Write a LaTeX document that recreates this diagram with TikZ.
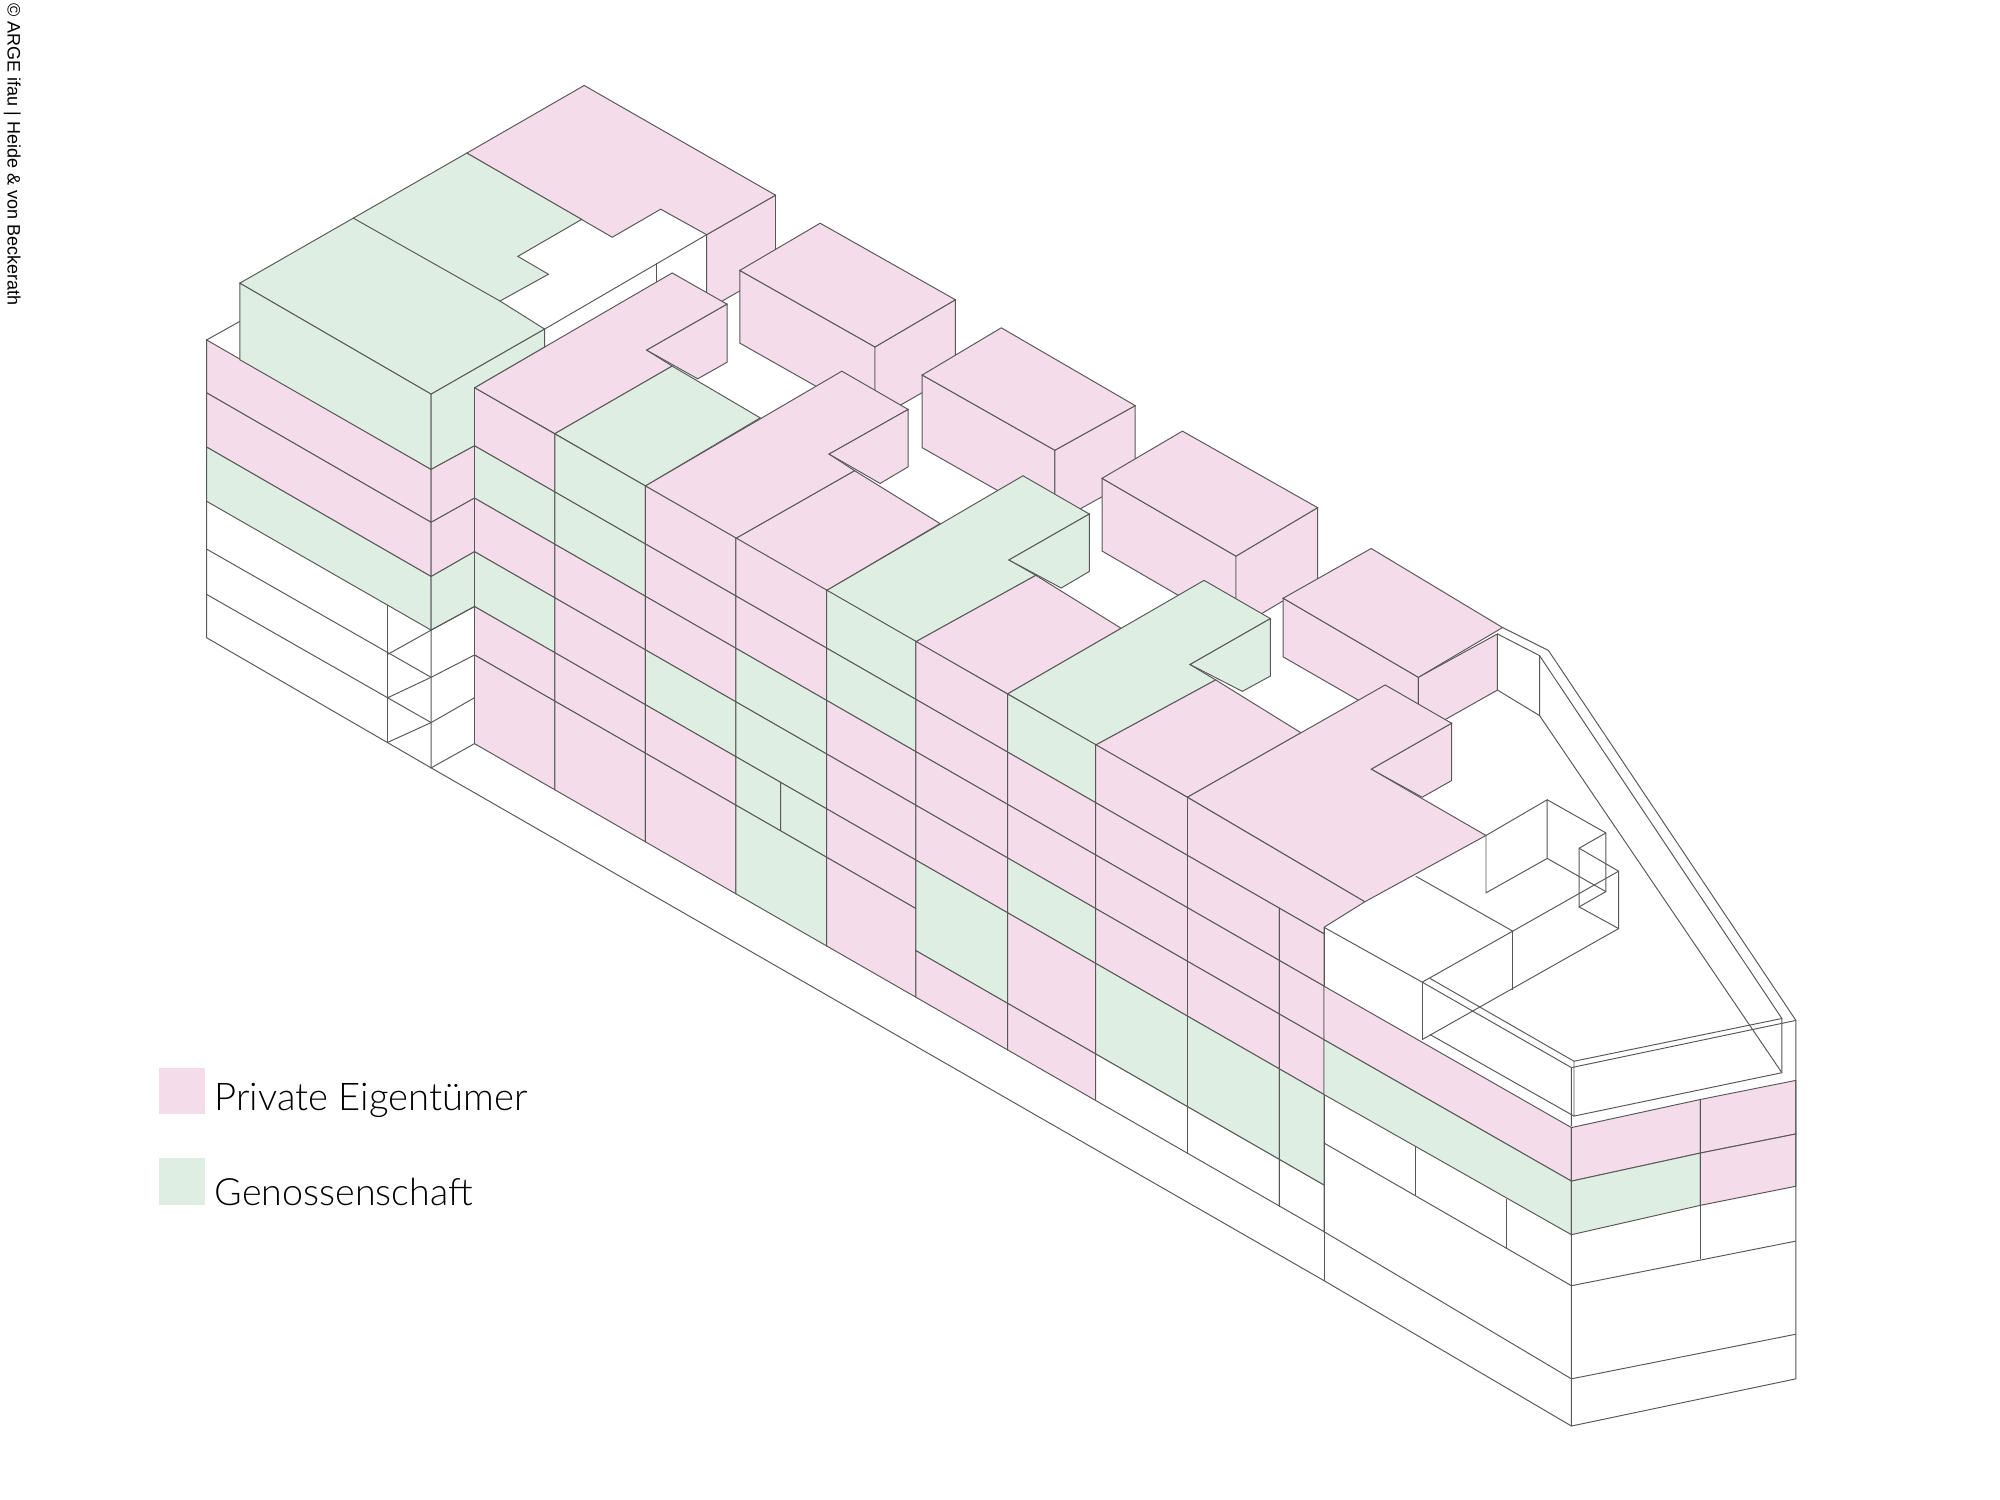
\documentclass[tikz,border=0pt]{standalone}
\usepackage{fontspec}
\setmainfont{Liberation Sans}
\newfontfamily\legendfont{Lato}[UprightFont=* Light]
\definecolor{linecol}{HTML}{585858}
\definecolor{pk}{HTML}{F4DCEB}
\definecolor{gn}{HTML}{DFEEE2}
% point on a long-axis facade line: x, and the line's height at x=372
\newcommand{\fc}[2]{({#1},{#2+0.5745*(#1-372)})}
\newcommand{\cellf}[5]{\filldraw[fill=#5] \fc{#1}{#3} -- \fc{#2}{#3} -- \fc{#2}{#4} -- \fc{#1}{#4} -- cycle;}
\def\lO{304}\def\lA{349.5}\def\lB{390.5}\def\lC{432.5}\def\lD{475.5}\def\lE{513.5}\def\lM{546.5}\def\lF{583}
\tikzset{legendtext/.style={text=black,inner sep=0pt,font=\legendfont\fontsize{19.1}{20}\selectfont,anchor=base west}}
\begin{document}
\begin{tikzpicture}[x=0.63776pt,y=-0.63776pt,line width=0.48pt,color=linecol,line join=miter]
\useasboundingbox (0,0) rectangle (1568,1176);
\fill[white] (0,0) rectangle (1568,1176);
% rear block
\filldraw[fill=pk] (608,153) -- (608,212) -- (554,243) -- (554,184) -- cycle;
\draw (427,258) -- (554,184);
\draw (515,206.5) -- (515,222);
\filldraw[fill=pk] (366,120) -- (458,67) -- (608,153) -- (554,184) -- (518,164) -- (480,186) -- cycle;
\filldraw[fill=gn] (188,222) -- (277,171) -- (366,120) -- (456,172) -- (406,201) -- (430,215) -- (392,236) -- (427,258) -- (338,309) -- cycle;
\draw (277,171) -- (392,236);
% rear pink boxes
\filldraw[fill=pk] (580,212) -- (686,272) -- (686,329) -- (580,269) -- cycle;
\filldraw[fill=pk] (686,272) -- (749,235) -- (749,293) -- (686,329) -- cycle;
\filldraw[fill=pk] (580,212) -- (643,175) -- (749,235) -- (686,272) -- cycle;
\filldraw[fill=pk] (723,294) -- (827,353) -- (827,410) -- (723,351) -- cycle;
\filldraw[fill=pk] (827,353) -- (890,318) -- (890,375) -- (827,410) -- cycle;
\filldraw[fill=pk] (723,294) -- (785,257) -- (890,318) -- (827,353) -- cycle;
\filldraw[fill=pk] (864,375) -- (969,436) -- (969,493) -- (864,432) -- cycle;
\filldraw[fill=pk] (969,436) -- (1033,398) -- (1033,455) -- (969,493) -- cycle;
\filldraw[fill=pk] (864,375) -- (927,338) -- (1033,398) -- (969,436) -- cycle;
\filldraw[fill=pk] (1006,469) -- (1112,531) -- (1112,576) -- (1006,515) -- cycle;
\filldraw[fill=pk] (1112,531) -- (1174,497) -- (1174,541) -- (1112,576) -- cycle;
\filldraw[fill=pk] (1006,469) -- (1075,430) -- (1178,492) -- (1112,531) -- cycle;
% penthouse wireframe and parapet
\draw (1174,497) -- (1207,514) -- (1207,561) -- (1174,541);
\draw (1178,492) -- (1214,510) -- (1408,800);
\draw (1207,514) -- (1397,798.5);
\draw (1207,561) -- (1397,841);
\draw (1232,837) -- (1408,800);
\draw (1234,832) -- (1397,798.5) -- (1397,841) -- (1234,875) -- cycle;
\draw (1121,767) -- (1234,832);
\draw (1115,770) -- (1232,837) -- (1232,883);
\draw (1121,811) -- (1234,875);
\draw (1165,655) -- (1165,700) -- (1213,673) -- (1213,627) -- cycle;
\draw (1213,627) -- (1259,653) -- (1259,699) -- (1213,673);
\draw (1259,653) -- (1238,665) -- (1238,711) -- (1259,699);
\draw (1238,665) -- (1269,683) -- (1269,728) -- (1238,711);
\draw (1186,730) -- (1269,683);
\draw (1269,728) -- (1115,815);
\draw (1186,730) -- (1186,776);
\draw (1110,687) -- (1186,730) -- (1115,770) -- (1038,727);
\draw (1115,770) -- (1115,815);
% roof slabs
\filldraw[fill=pk] (372,304) -- (527,214) -- (570,238.5) -- (507,274.5) -- (527,287) -- (435,340) -- cycle;
\filldraw[fill=pk] (570,238.5) -- (570,284) -- (547,297) -- (507,274.5) -- cycle;
\filldraw[fill=gn] (435,340) -- (527,287) -- (596,327.6) -- (506,381) -- cycle;
\filldraw[fill=pk] (577,422) -- (670,369) -- (737,410.5) -- (648,463) -- cycle;
\filldraw[fill=pk] (506,381) -- (660,291) -- (712,321) -- (650,356) -- (670,369) -- (577,422) -- cycle;
\filldraw[fill=pk] (712,321) -- (712,366) -- (690,379) -- (650,356) -- cycle;
\filldraw[fill=pk] (718,503) -- (812,451) -- (879,492.6) -- (790,544) -- cycle;
\filldraw[fill=gn] (648,463) -- (802,373) -- (854,403) -- (791,439) -- (812,451) -- (718,503) -- cycle;
\filldraw[fill=gn] (854,403) -- (854,448) -- (832,461) -- (791,439) -- cycle;
\filldraw[fill=pk] (859,584) -- (953,533) -- (1020,574.5) -- (931,625) -- cycle;
\filldraw[fill=gn] (790,544) -- (944,455) -- (996,485) -- (933,521) -- (953,533) -- (859,584) -- cycle;
\filldraw[fill=gn] (996,485) -- (996,530) -- (974,542) -- (933,521) -- cycle;
\filldraw[fill=pk] (1138,567) -- (1138,612) -- (1115,625) -- (1075,603) -- cycle;
\filldraw[fill=pk] (931,625) -- (1086,537) -- (1138,567) -- (1075,603) -- (1165,655) -- (1070,707) -- cycle;
% left wing, long face
\filldraw[fill=pk] (162,266.5) -- (338,368) -- (338,409.5) -- (162,308) -- cycle;
\filldraw[fill=pk] (162,308) -- (338,409.5) -- (338,452) -- (162,350.5) -- cycle;
\filldraw[fill=gn] (162,350.5) -- (338,452) -- (338,494) -- (162,393) -- cycle;
\draw (162,393) -- (162,500) -- (338,602);
\draw (162,430.5) -- (338,531);
\draw (162,466) -- (338,566.5);
\draw (304,474.5) -- (304,582);
\draw (304,513) -- (338,494);
\draw (304,547) -- (338,531);
\draw (304,582) -- (338,566.5);
\draw (162,266.5) -- (188,252);
% green upper box
\filldraw[fill=gn] (188,222) -- (338,309) -- (338,368) -- (188,282) -- cycle;
\filldraw[fill=gn] (338,309) -- (427,258) -- (427,272) -- (372,304) -- (372,349.5) -- (338,368) -- cycle;
% notch faces
\filldraw[fill=pk] (338,368) -- (372,349.5) -- (372,390.5) -- (338,409.5) -- cycle;
\filldraw[fill=pk] (338,409.5) -- (372,390.5) -- (372,432.5) -- (338,452) -- cycle;
\filldraw[fill=gn] (338,452) -- (372,432.5) -- (372,475.5) -- (338,494) -- cycle;
\draw (338,494) -- (372,475.5) -- (372,583) -- (338,602) -- cycle;
\draw (338,531) -- (372,513.5);
\draw (338,566.5) -- (372,547);
% main facade cells
\cellf{372}{435}{\lO}{\lA}{pk}\cellf{372}{435}{\lA}{\lB}{gn}\cellf{372}{435}{\lB}{\lC}{pk}\cellf{372}{435}{\lC}{\lD}{gn}\cellf{372}{435}{\lD}{\lE}{pk}\cellf{372}{435}{\lE}{\lF}{pk}
\cellf{435}{506}{\lO}{\lA}{gn}\cellf{435}{506}{\lA}{\lB}{gn}\cellf{435}{506}{\lB}{\lC}{pk}\cellf{435}{506}{\lC}{\lD}{pk}\cellf{435}{506}{\lD}{\lE}{pk}\cellf{435}{506}{\lE}{\lF}{pk}
\cellf{506}{577}{\lO}{\lA}{pk}\cellf{506}{577}{\lA}{\lB}{pk}\cellf{506}{577}{\lB}{\lC}{pk}\cellf{506}{577}{\lC}{\lD}{gn}\cellf{506}{577}{\lD}{\lE}{pk}\cellf{506}{577}{\lE}{\lF}{pk}
\cellf{577}{648}{\lO}{\lA}{pk}\cellf{577}{648}{\lA}{\lB}{pk}\cellf{577}{648}{\lB}{\lC}{gn}\cellf{577}{648}{\lC}{\lD}{gn}\cellf{577}{612}{\lD}{\lE}{gn}\cellf{612}{648}{\lD}{\lE}{gn}\cellf{577}{648}{\lE}{\lF}{gn}
\cellf{648}{718}{\lO}{\lA}{gn}\cellf{648}{718}{\lA}{\lB}{gn}\cellf{648}{718}{\lB}{\lC}{pk}\cellf{648}{718}{\lC}{\lD}{pk}\cellf{648}{718}{\lD}{\lE}{pk}\cellf{648}{718}{\lE}{\lF}{pk}
\cellf{718}{790}{\lO}{\lA}{pk}\cellf{718}{790}{\lA}{\lB}{pk}\cellf{718}{790}{\lB}{\lC}{pk}\cellf{718}{790}{\lC}{\lD}{pk}\cellf{718}{790}{\lD}{\lM}{gn}\cellf{718}{790}{\lM}{\lF}{pk}
\cellf{790}{859}{\lO}{\lA}{gn}\cellf{790}{859}{\lA}{\lB}{pk}\cellf{790}{859}{\lB}{\lC}{pk}\cellf{790}{859}{\lC}{\lD}{gn}\cellf{790}{859}{\lD}{\lM}{pk}\cellf{790}{859}{\lM}{\lF}{pk}
\cellf{859}{931}{\lO}{\lA}{pk}\cellf{859}{931}{\lA}{\lB}{pk}\cellf{859}{931}{\lB}{\lC}{pk}\cellf{859}{931}{\lC}{\lD}{pk}\cellf{859}{931}{\lD}{\lM}{gn}\cellf{859}{931}{\lM}{\lF}{white}
\filldraw[fill=pk] \fc{931}{\lO} -- (1070,707) -- (1038,727) -- \fc{1038}{\lA} -- \fc{931}{\lA} -- cycle;
\cellf{931}{1003}{\lA}{\lB}{pk}\cellf{931}{1003}{\lB}{\lC}{pk}\cellf{931}{1003}{\lC}{\lD}{pk}\cellf{931}{1003}{\lD}{\lM}{gn}\cellf{931}{1003}{\lM}{\lF}{white}
\cellf{1003}{1038}{\lA}{\lB}{pk}\cellf{1003}{1038}{\lB}{\lC}{pk}\cellf{1003}{1038}{\lC}{\lD}{pk}\cellf{1003}{1038}{\lD}{\lM}{gn}\cellf{1003}{1038}{\lM}{\lF}{white}
% plinth of the long face
\draw (338,602) -- (1038,1004) -- (1232,1118);
% right part of the long face
\draw (1038,727) -- (1038,773);
\filldraw[fill=pk] \fc{1038}{\lB} -- (1232,884) -- (1232,926) -- \fc{1038}{\lC} -- cycle;
\filldraw[fill=gn] \fc{1038}{\lC} -- (1232,926) -- (1232,968) -- \fc{1038}{\lD} -- cycle;
\draw \fc{1038}{\lD} -- (1038,1004);
\draw \fc{1038}{\lE} -- (1232,1008);
\draw \fc{1038}{\lF} -- (1232,1081);
\draw \fc{1110}{\lD} -- \fc{1110}{\lE};
\draw \fc{1181}{\lD} -- \fc{1181}{\lE};
% end face
\filldraw[fill=pk] (1232,884) -- (1333,862) -- (1333,904) -- (1232,926) -- cycle;
\filldraw[fill=gn] (1232,926) -- (1333,904) -- (1333,945) -- (1232,968) -- cycle;
\filldraw[fill=pk] (1333,862) -- (1408,847) -- (1408,889) -- (1333,904) -- cycle;
\filldraw[fill=pk] (1333,904) -- (1408,889) -- (1408,930) -- (1333,945) -- cycle;
\draw (1232,968) -- (1232,1118) -- (1408,1081) -- (1408,800);
\draw (1333,945) -- (1333,987);
\draw (1232,1008) -- (1408,973);
\draw (1232,1081) -- (1408,1046);
% legend
\fill[pk] (125,837) rectangle (161,873);
\fill[gn] (125,908) rectangle (161,945);
\node[legendtext] (legendA) at (168,871) {Private Eigentümer};
\node[legendtext] (legendB) at (168,945) {\fontsize{18.8}{20}\selectfont Genossenschaft};
\node[text=black,inner sep=0pt,anchor=west,rotate=-90,font=\fontsize{9.0}{10}\selectfont] (credit) at (9.5,2) {© ARGE ifau | Heide \& von Beckerath};
\end{tikzpicture}
\end{document}
